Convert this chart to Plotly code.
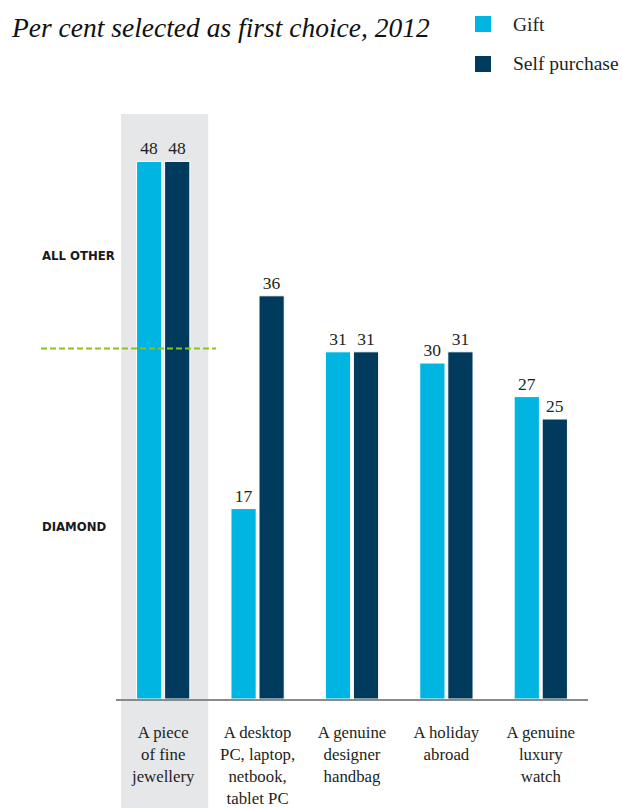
import plotly.graph_objects as go

# Survey data: per cent selected as first choice, 2012
categories = [
    "A piece<br>of fine<br>jewellery",
    "A desktop<br>PC, laptop,<br>netbook,<br>tablet PC",
    "A genuine<br>designer<br>handbag",
    "A holiday<br>abroad",
    "A genuine<br>luxury<br>watch",
]
gift = [48, 17, 31, 30, 27]
self_purchase = [48, 36, 31, 31, 25]

# Level separating the "ALL OTHER" and "DIAMOND" zones
divider_level = 31.3

GIFT_COLOR = "#00b5e2"
SELF_COLOR = "#003a5c"
SERIF = "Liberation Serif, Times New Roman, serif"
COND = "DejaVu Sans Condensed, DejaVu Sans, sans-serif"
TEXT = "#231f20"

W, H = 622, 808
ML, MR, MT, MB = 116, 34, 113, 109
plot_h = H - MT - MB
px_per_unit = 11.2
y_max = plot_h / px_per_unit


def paper_x(px):
    return (px - ML) / (W - ML - MR)


def paper_y(py):
    return (H - MB - py) / plot_h


fig = go.Figure()
for name, vals, color in [("Gift", gift, GIFT_COLOR), ("Self purchase", self_purchase, SELF_COLOR)]:
    fig.add_trace(go.Bar(
        x=list(range(len(categories))),
        y=vals,
        name=name,
        marker=dict(color=color, line=dict(color="white", width=1)),
        text=vals,
        texttemplate="%{text}",
        textposition="outside",
        textfont=dict(family=SERIF, size=17.5, color=TEXT),
        cliponaxis=False,
        showlegend=False,
    ))

# Highlight band behind the jewellery group
fig.add_shape(type="rect", xref="x", yref="paper",
              x0=-0.446, x1=0.477, y0=paper_y(H + 5), y1=paper_y(114),
              fillcolor="#e6e7e9", line_width=0, layer="below")

# Dashed divider line
fig.add_shape(type="line", xref="paper", yref="y",
              x0=paper_x(41), x1=paper_x(216), y0=divider_level, y1=divider_level,
              line=dict(color="#8cc21f", width=2, dash="6px,3px"), layer="above")

# Zone labels
for label, py in [("ALL OTHER", 255), ("DIAMOND", 526)]:
    fig.add_annotation(text=label, xref="paper", yref="paper",
                       x=paper_x(40), y=paper_y(py), xanchor="left", yanchor="middle",
                       showarrow=False,
                       font=dict(family=COND, size=13, color="#1a1a1a", weight="bold"))

# Title
fig.add_annotation(text="<i>Per cent selected as first choice, 2012</i>",
                   xref="paper", yref="paper", x=paper_x(9), y=paper_y(28),
                   xanchor="left", yanchor="middle", showarrow=False,
                   font=dict(family=SERIF, size=27.5, color="#111111"))

# Legend
for label, color, py in [("Gift", GIFT_COLOR, 24), ("Self purchase", SELF_COLOR, 64)]:
    fig.add_shape(type="rect", xref="paper", yref="paper",
                  x0=paper_x(475), x1=paper_x(491), y0=paper_y(py + 8), y1=paper_y(py - 8),
                  fillcolor=color, line_width=0)
    fig.add_annotation(text=label, xref="paper", yref="paper",
                       x=paper_x(511), y=paper_y(py), xanchor="left", yanchor="middle",
                       showarrow=False, font=dict(family=SERIF, size=19.5, color=TEXT))

fig.update_layout(
    width=W, height=H,
    margin=dict(l=ML, r=MR, t=MT, b=MB, autoexpand=False),
    paper_bgcolor="white", plot_bgcolor="rgba(0,0,0,0)",
    barmode="group", bargap=0.406, bargroupgap=0.1,
    xaxis=dict(
        range=[-0.5, 4.5],
        tickmode="array", tickvals=list(range(len(categories))), ticktext=categories,
        tickfont=dict(family=SERIF, size=16.8, color=TEXT),
        showgrid=False, zeroline=False, ticks="",
        showline=True, linecolor="#8a8a8a", linewidth=2,
        ticklabelstandoff=17, automargin=False,
    ),
    yaxis=dict(range=[0, y_max], visible=False, showgrid=False, zeroline=False,
               automargin=False),
)

fig.write_html("out.html")
